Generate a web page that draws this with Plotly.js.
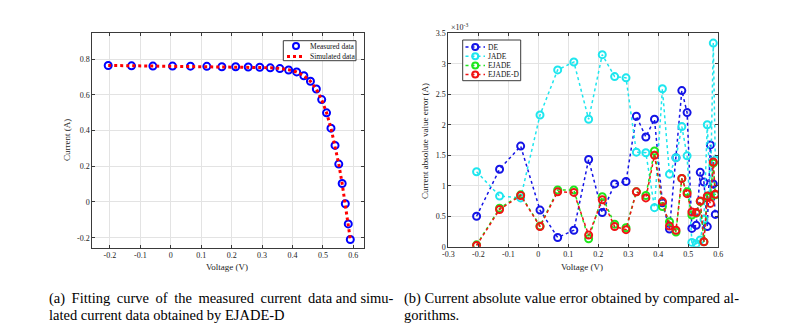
<!DOCTYPE html>
<html>
<head>
<meta charset="utf-8">
<script src="https://cdn.plot.ly/plotly-3.0.1.min.js"></script>
<style>
  html, body { margin: 0; padding: 0; background: #ffffff; }
  #grafico { width: 792px; height: 330px; }
</style>
</head>
<body>
<div id="grafico"></div>
<script>
// ---------------------------------------------------------------------
// DATOS
// ---------------------------------------------------------------------
const voltajes = [-0.2057, -0.1291, -0.0588, 0.0057, 0.0646, 0.1185, 0.1678, 0.2132,
  0.2545, 0.2924, 0.3269, 0.3585, 0.3873, 0.4137, 0.4373, 0.4590, 0.4784, 0.4960,
  0.5119, 0.5265, 0.5398, 0.5521, 0.5633, 0.5736, 0.5833, 0.5900];

const corrienteMedida = [0.7640, 0.7620, 0.7605, 0.7605, 0.7600, 0.7590, 0.7570, 0.7570,
  0.7555, 0.7540, 0.7505, 0.7465, 0.7385, 0.7280, 0.7065, 0.6755, 0.6320, 0.5730,
  0.4990, 0.4130, 0.3165, 0.2120, 0.1035, -0.0100, -0.1230, -0.2100];

const corrienteSimulada = [0.7641, 0.7627, 0.7614, 0.7602, 0.7591, 0.7580, 0.7571, 0.7561,
  0.7551, 0.7537, 0.7514, 0.7474, 0.7401, 0.7274, 0.7070, 0.6753, 0.6309, 0.5720,
  0.4996, 0.4136, 0.3175, 0.2122, 0.1023, -0.0087, -0.1255, -0.2084];

// errores absolutos en unidades de 1e-3 A
const errorDE = [0.50, 1.27, 1.65, 0.60, 0.15, 0.27, 1.43, 0.56, 1.03, 1.07, 2.14, 1.80, 2.09,
  0.72, 0.29, 1.46, 2.56, 2.20, 0.30, 0.35, 1.22, 1.06, 0.33, 1.67, 1.03, 0.53];
const errorJADE = [1.23, 0.83, 0.80, 2.16, 2.90, 3.03, 2.09, 3.15, 2.79, 2.77, 1.55, 1.54, 0.64,
  2.59, 1.19, 1.46, 1.97, 1.49, 0.07, 0.05, 0.11, 0.45, 2.00, 0.85, 3.34, 1.42];
const errorEJADE = [0.03, 0.63, 0.85, 0.34, 0.93, 0.93, 0.13, 0.82, 0.37, 0.31, 0.90, 0.84, 1.57,
  0.66, 0.41, 0.24, 1.12, 0.90, 0.52, 0.55, 0.74, 0.08, 0.81, 0.82, 1.37, 0.85];
const errorEJADED = [0.02, 0.61, 0.84, 0.33, 0.90, 0.89, 0.19, 0.77, 0.33, 0.28, 0.90, 0.80, 1.50,
  0.74, 0.34, 0.27, 1.12, 0.87, 0.57, 0.56, 0.75, 0.08, 0.83, 0.71, 1.39, 0.86];

const ticksXa = [-0.2, -0.1, 0, 0.1, 0.2, 0.3, 0.4, 0.5, 0.6];
const etiquetasXa = ["-0.2", "-0.1", "0", "0.1", "0.2", "0.3", "0.4", "0.5", "0.6"];
const ticksYa = [-0.2, 0, 0.2, 0.4, 0.6, 0.8];
const etiquetasYa = ["-0.2", "0", "0.2", "0.4", "0.6", "0.8"];
const ticksXb = [-0.3, -0.2, -0.1, 0, 0.1, 0.2, 0.3, 0.4, 0.5, 0.6];
const etiquetasXb = ["-0.3", "-0.2", "-0.1", "0", "0.1", "0.2", "0.3", "0.4", "0.5", "0.6"];
const ticksYb = [0, 0.5, 1, 1.5, 2, 2.5, 3, 3.5];
const etiquetasYb = ["0", "0.5", "1", "1.5", "2", "2.5", "3", "3.5"];

// ---------------------------------------------------------------------
// ESTILO COMUN
// ---------------------------------------------------------------------
const W = 792, H = 330;
const px = (x) => x / W;          // pixel horizontal -> fraccion de papel
const py = (y) => 1 - y / H;      // pixel vertical -> fraccion de papel
const FUENTE = "Liberation Serif, Times New Roman, serif";
const AZUL = "#1414e6", CIAN = "#1ee6ee", VERDE = "#1ee61e", ROJO = "#f01414";

function ejeBase(extra) {
  return Object.assign({
    showgrid: true,
    gridcolor: "#e3e3e3",
    gridwidth: 1,
    zeroline: false,
    showline: true,
    linecolor: "#3a3a3a",
    linewidth: 1,
    mirror: "ticks",
    ticks: "inside",
    ticklen: 3,
    tickcolor: "#3a3a3a",
    tickmode: "array",
    tickfont: { family: FUENTE, size: 8, color: "#222" },
  }, extra);
}

function nota(texto, x, y, extra) {
  return Object.assign({
    text: texto, xref: "paper", yref: "paper", x: px(x), y: py(y),
    xanchor: "center", yanchor: "middle",
    showarrow: false, font: { family: FUENTE, size: 9, color: "#222" },
  }, extra);
}

// ---------------------------------------------------------------------
// LEYENDAS COMPACTAS (la leyenda nativa no baja de ~19 px por fila)
// ---------------------------------------------------------------------
function construirLeyenda(caja, entradas, geo) {
  const formas = [{
    type: "rect", xref: "paper", yref: "paper", layer: "above",
    x0: px(caja[0]), x1: px(caja[2]), y0: py(caja[3]), y1: py(caja[1]),
    fillcolor: "#ffffff", line: { color: "#3a3a3a", width: 1 },
  }];
  const textos = [];
  entradas.forEach((e, i) => {
    const yc = geo.y0 + i * geo.paso;
    if (e.linea) {
      formas.push({
        type: "line", xref: "paper", yref: "paper", layer: "above",
        x0: px(geo.l0), x1: px(geo.l1), y0: py(yc), y1: py(yc),
        line: { color: e.color, width: e.ancho, dash: "dot" },
      });
    }
    if (e.marcador) {
      const cx = (geo.l0 + geo.l1) / 2, r = 3;
      formas.push({
        type: "circle", xref: "paper", yref: "paper", layer: "above",
        x0: px(cx - r), x1: px(cx + r), y0: py(yc + r), y1: py(yc - r),
        line: { color: e.color, width: 2 },
      });
    }
    textos.push(nota(e.nombre, geo.t, yc, { xanchor: "left", font: { family: FUENTE, size: 7.5, color: "#111" } }));
  });
  return { formas, textos };
}

const leyendaA = construirLeyenda([283.3, 40.7, 356, 60.7], [
  { nombre: "Measured data", color: "#0000ff", marcador: true },
  { nombre: "Simulated data", color: "#ff0000", linea: true, ancho: 3 },
], { y0: 46, paso: 10.5, l0: 287, l1: 305, t: 308 });

const leyendaB = construirLeyenda([462.7, 40, 520.7, 80.7], [
  { nombre: "DE", color: AZUL, linea: true, marcador: true, ancho: 1.5 },
  { nombre: "JADE", color: CIAN, linea: true, marcador: true, ancho: 1.5 },
  { nombre: "EJADE", color: VERDE, linea: true, marcador: true, ancho: 1.5 },
  { nombre: "EJADE-D", color: ROJO, linea: true, marcador: true, ancho: 1.5 },
], { y0: 47, paso: 9.2, l0: 465.5, l1: 485, t: 486 });

// ---------------------------------------------------------------------
// (a) CURVA DE AJUSTE
// ---------------------------------------------------------------------
const trazaMedida = {
  x: voltajes, y: corrienteMedida, xaxis: "x", yaxis: "y",
  type: "scatter", mode: "markers", name: "Measured data",
  marker: { symbol: "circle-open", size: 7, color: "#0000ff", line: { width: 2, color: "#0000ff" } },
};

const trazaSimulada = {
  x: voltajes, y: corrienteSimulada, xaxis: "x", yaxis: "y",
  type: "scatter", mode: "lines", name: "Simulated data",
  line: { color: "#ff0000", width: 3, dash: "dot" },
};

// ---------------------------------------------------------------------
// (b) ERROR ABSOLUTO POR ALGORITMO
// ---------------------------------------------------------------------
function trazaError(nombre, valores, color) {
  return {
    x: voltajes, y: valores, xaxis: "x2", yaxis: "y2",
    type: "scatter", mode: "lines+markers", name: nombre,
    line: { color: color, width: 1.5, dash: "dot" },
    marker: { symbol: "circle-open", size: 7, color: color, line: { width: 2, color: color } },
  };
}

const trazas = [
  trazaMedida, trazaSimulada,
  trazaError("DE", errorDE, AZUL),
  trazaError("JADE", errorJADE, CIAN),
  trazaError("EJADE", errorEJADE, VERDE),
  trazaError("EJADE-D", errorEJADED, ROJO),
];

// pie de figura justificado: espacio fino extra en la primera linea de (a)
const capt = { xanchor: "left", font: { family: FUENTE, size: 14.5, color: "#000" } };
const linea1a = "(a) \u2009Fitting \u2009curve \u2009of \u2009the \u2009measured \u2009current \u2009data and simu-";

const layout = {
  width: W, height: H,
  margin: { l: 0, r: 0, t: 0, b: 0 },
  paper_bgcolor: "#ffffff", plot_bgcolor: "#ffffff",
  showlegend: false,
  xaxis: ejeBase({ domain: [px(92.3), px(364.3)], range: [-0.258, 0.636], tickvals: ticksXa, ticktext: etiquetasXa, anchor: "y" }),
  yaxis: ejeBase({ domain: [py(247.7), py(33.3)], range: [-0.256, 0.944], tickvals: ticksYa, ticktext: etiquetasYa, anchor: "x" }),
  xaxis2: ejeBase({ domain: [px(448.3), px(718.3)], range: [-0.3, 0.6], tickvals: ticksXb, ticktext: etiquetasXb, anchor: "y2" }),
  yaxis2: ejeBase({ domain: [py(246.7), py(33.3)], range: [0, 3.5], tickvals: ticksYb, ticktext: etiquetasYb, anchor: "x2" }),
  shapes: leyendaA.formas.concat(leyendaB.formas),
  annotations: [
    nota("Current (A)", 67, 140, { textangle: -90 }),
    nota("Voltage (V)", 227, 267),
    nota("Current absolute value error (A)", 425, 141, { textangle: -90 }),
    nota("Voltage (V)", 582, 267),
    nota("×10<sup>-3</sup>", 449, 27, { xanchor: "left", font: { family: FUENTE, size: 8, color: "#222" } }),
    nota(linea1a, 47, 298, capt),
    nota("lated current data obtained by EJADE-D", 47, 315, capt),
    nota("(b) Current absolute value error obtained by compared al-", 402, 298, capt),
    nota("gorithms.", 402, 315, capt),
  ].concat(leyendaA.textos, leyendaB.textos),
};

Plotly.newPlot("grafico", trazas, layout, { staticPlot: true, displayModeBar: false });
</script>
</body>
</html>
